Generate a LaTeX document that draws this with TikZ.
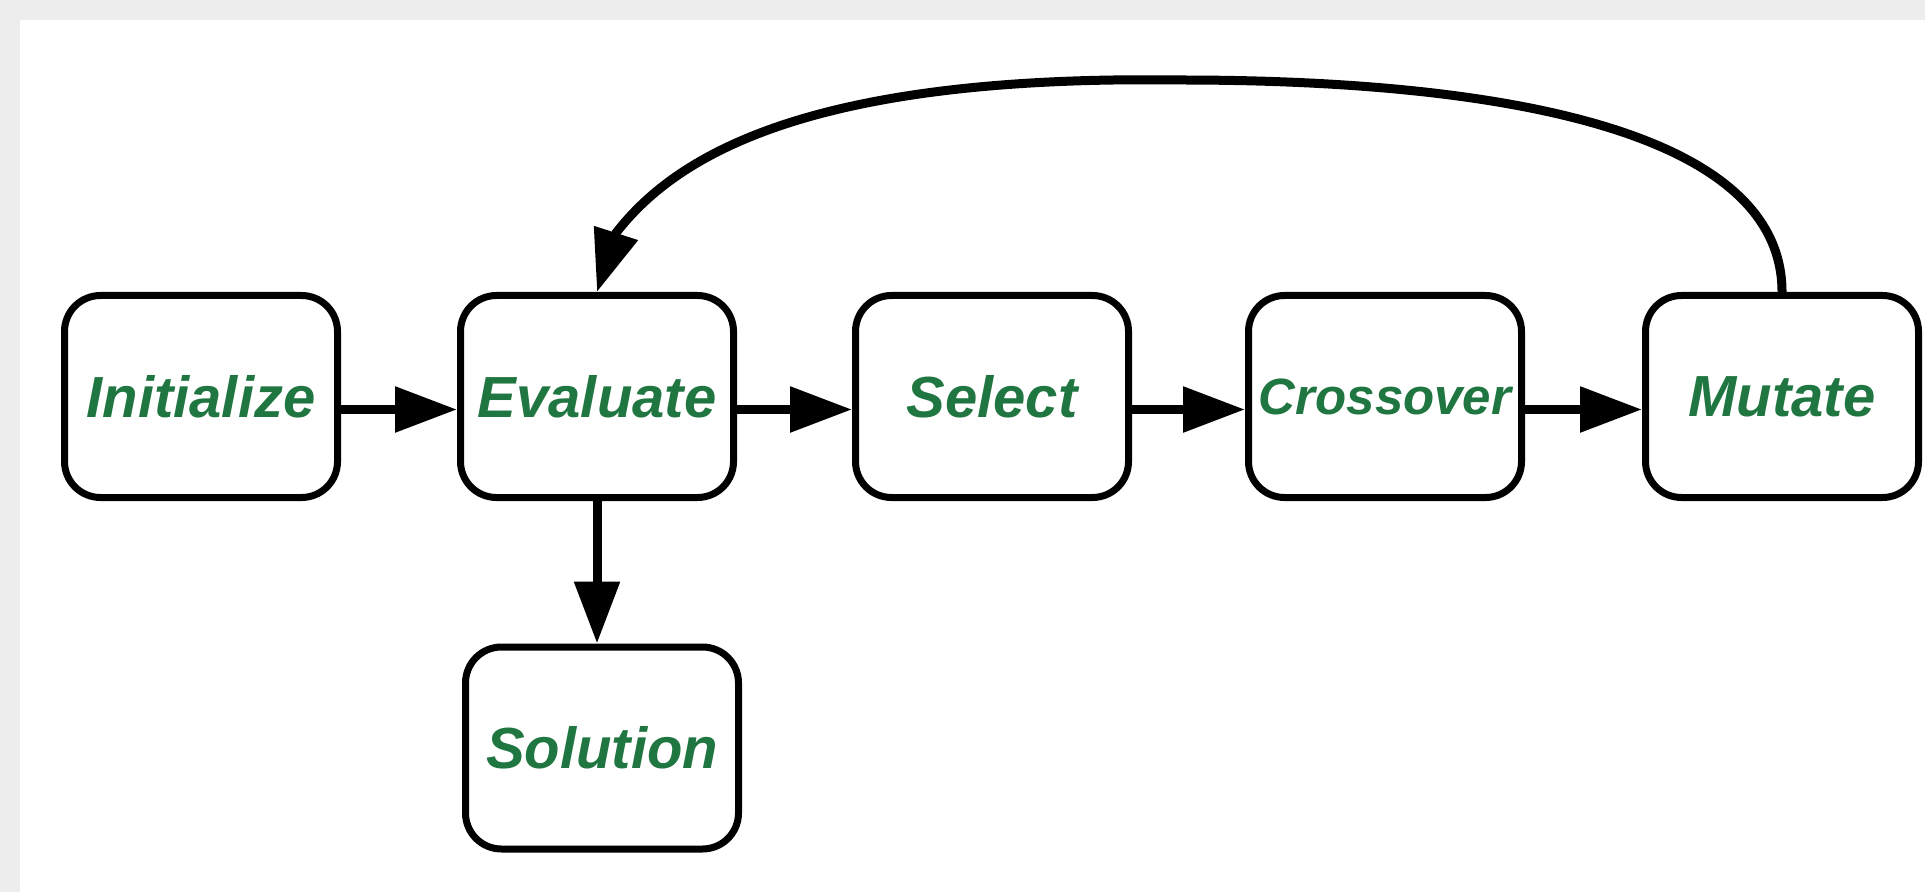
\documentclass[tikz,border=0pt]{standalone}
\usepackage{fontspec}
\setmainfont{Liberation Sans}
\usetikzlibrary{arrows.meta}

\definecolor{stagegreen}{RGB}{32,118,64}
\definecolor{framegrey}{RGB}{237,237,237}

\tikzset{
    stage/.style={draw, line width=3.5pt, rounded corners=18pt, fill=white,
        minimum width=136.5pt, minimum height=101pt, text=stagegreen,
        font=\fontsize{29}{34}\selectfont\bfseries\itshape},
    flow/.style={line width=4.5pt, -{Triangle[length=31pt,width=22pt]}}
}

\begin{document}
\begin{tikzpicture}[x=0.5pt, y=-0.5pt]
        % page and frame
        \useasboundingbox (0,0) rectangle (1925,892);
        \fill[framegrey] (0,0) rectangle (1925,892);
        \fill[white] (20,20) rectangle (1925,892);

        % stages of the loop
        \node[stage] (initialize) at (201,396.5) {Initialize};
        \node[stage] (evaluate) at (597,396.5) {Evaluate};
        \node[stage] (select) at (992,396.5) {Select};
        \node[stage, font=\fontsize{25.5}{30}\selectfont\bfseries\itshape] (crossover) at (1385,396.5) {Crossover};
        \node[stage] (mutate) at (1782,396.5) {Mutate};
        \node[stage] (solution) at (602,748) {Solution};

        % forward arrows
        \foreach \a/\b in {initialize/evaluate, evaluate/select, select/crossover, crossover/mutate}
            \draw[flow] ([yshift=-6.5pt]\a.east) -- ([yshift=-6.5pt]\b.west);
        \draw[flow] (evaluate.south) -- (evaluate.south |- solution.north);

        % back to evaluation
        \draw[flow] (mutate.north) .. controls (1782,130) and (1500,80) .. (1180,80)
            .. controls (820,75) and (680,150) .. (616,233) -- (evaluate.north);
    \end{tikzpicture}
\end{document}
